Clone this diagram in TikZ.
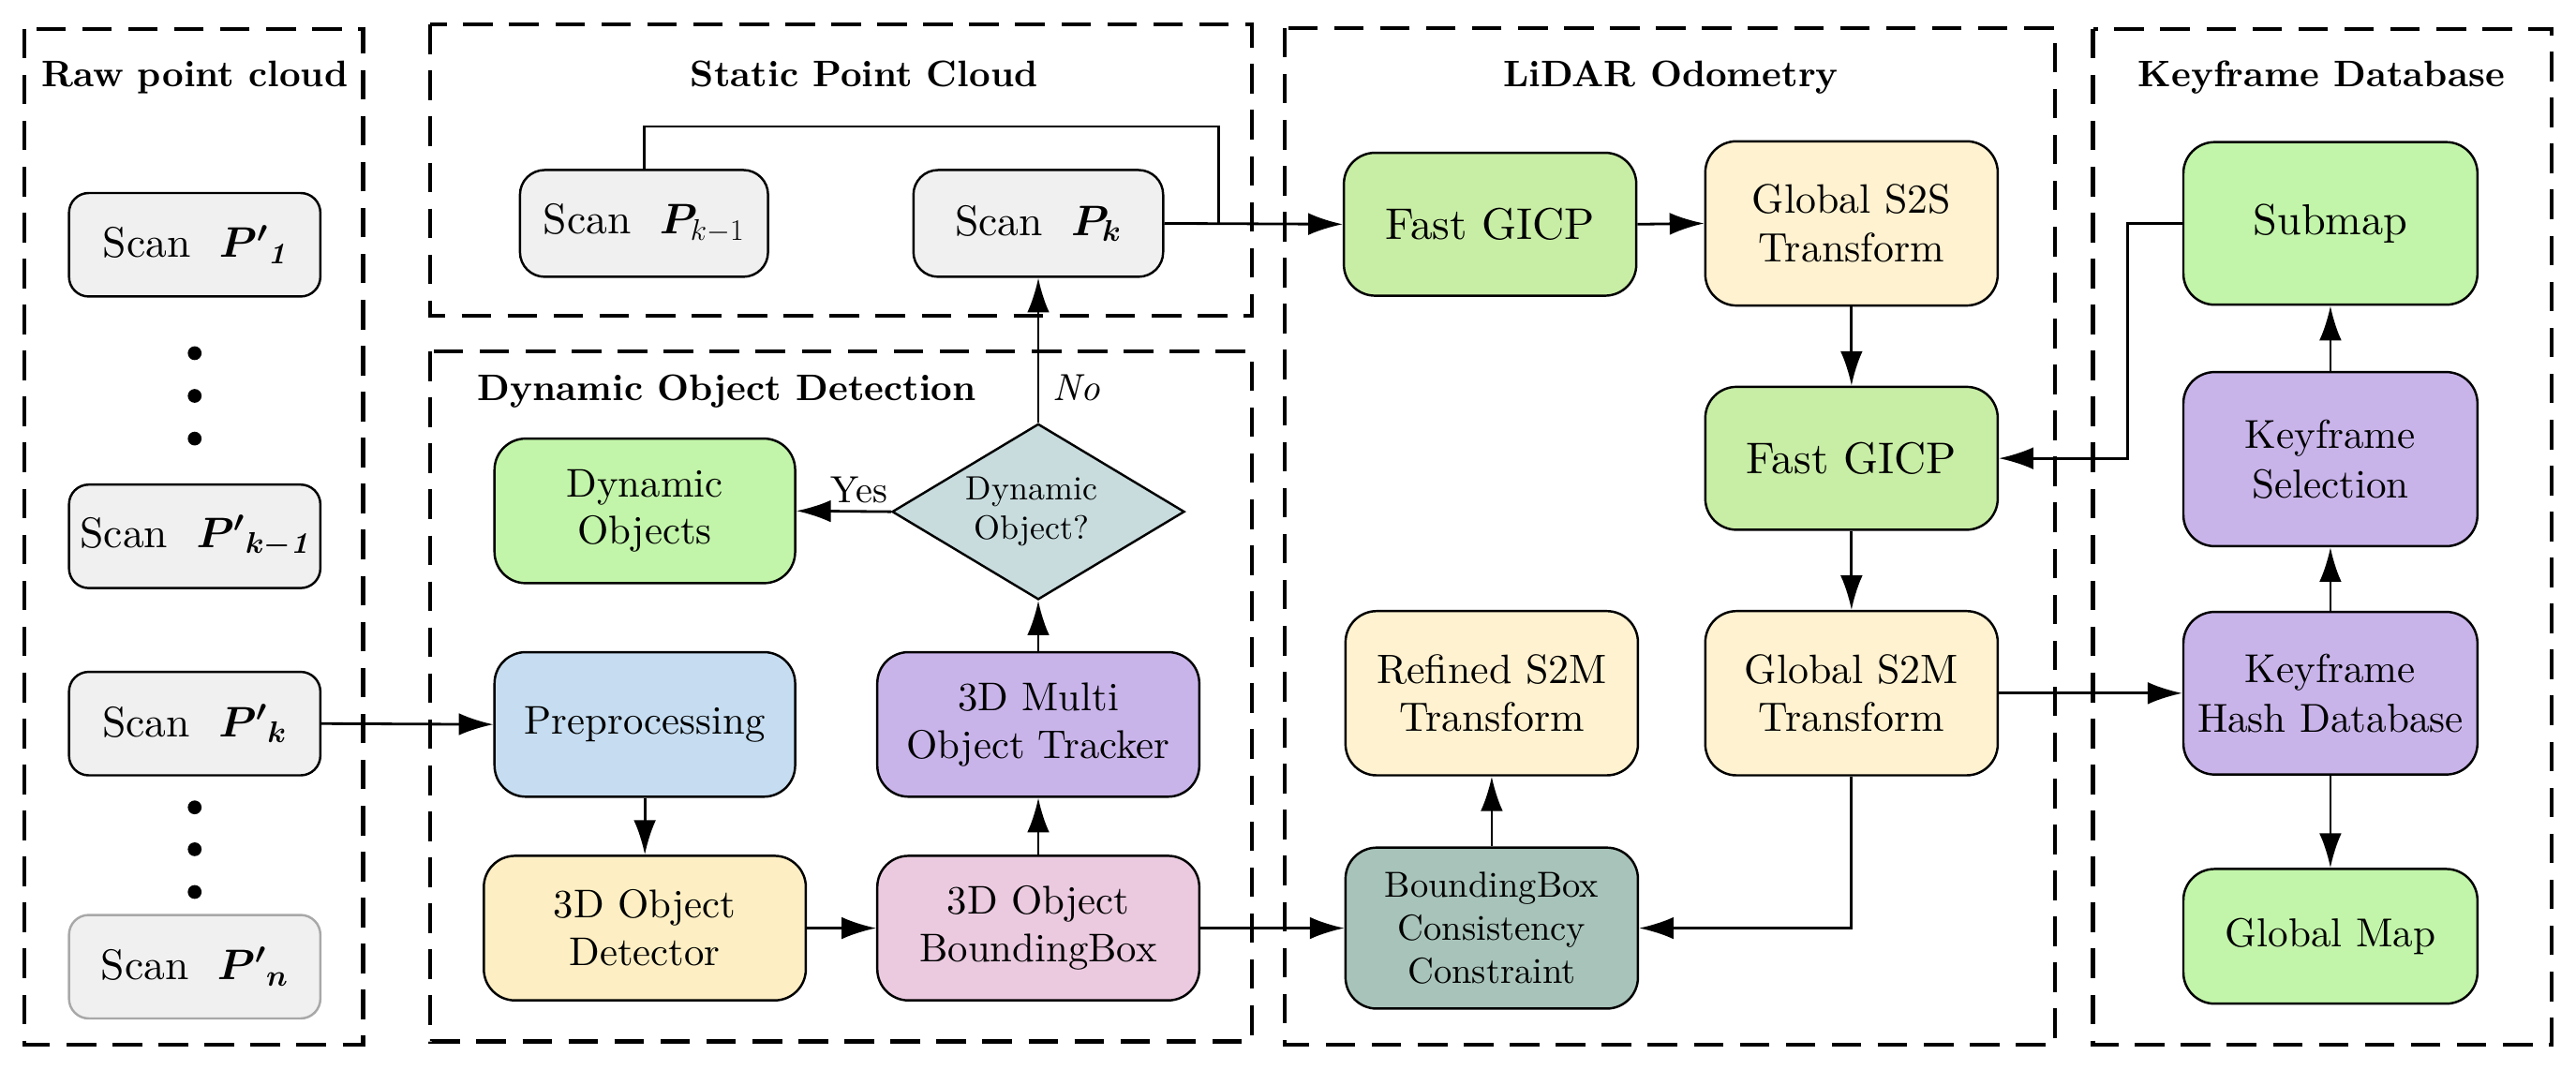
\RequirePackage{fix-cm}
\documentclass[tikz,border=0pt]{standalone}
\usepackage{amsmath}
\usepackage{bm}
\usepackage{fontspec}
\setmainfont{lmroman10-regular.otf}[BoldFont=lmroman10-bold.otf,ItalicFont=lmroman10-italic.otf,BoldItalicFont=lmroman10-bolditalic.otf]
\usetikzlibrary{shapes.geometric,arrows.meta}
\definecolor{scanfill}{HTML}{F0F0F0}
\definecolor{scangray}{HTML}{A8A8A8}
\definecolor{greenA}{HTML}{C2F5A9}
\definecolor{greenB}{HTML}{C8EDA5}
\definecolor{blueA}{HTML}{C6DDF1}
\definecolor{yelA}{HTML}{FDEFC3}
\definecolor{yelB}{HTML}{FFF2D0}
\definecolor{purA}{HTML}{C9B4EA}
\definecolor{pinkA}{HTML}{EBCAE0}
\definecolor{diaA}{HTML}{C8DCDE}
\definecolor{tealA}{HTML}{A7C3BA}
\newcommand{\bo}{\textbf{\textit{1}}}
\begin{document}
\begin{tikzpicture}[x=1pt,y=-1pt,
  frame/.style={draw, line width=2.4pt, dash pattern=on 18pt off 10pt},
  ttl/.style={font=\fontsize{22.5}{27}\selectfont\bfseries, anchor=base, inner sep=0pt},
  box/.style={draw, line width=1.4pt, rounded corners=19pt, align=center, inner sep=0pt},
  scanbox/.style={box, fill=scanfill, rounded corners=12pt, minimum width=153pt, minimum height=63pt, font=\fontsize{26}{31}\selectfont},
  dbox/.style={box, font=\fontsize{24.4}{29}\selectfont, minimum height=88pt},
  lbox/.style={box, font=\fontsize{25}{29.5}\selectfont, minimum width=178pt},
  kbox/.style={box, font=\fontsize{24.6}{30}\selectfont, minimum width=179pt},
  arr/.style={line width=1.6pt, -{Latex[length=21pt,width=13.5pt]}},
  ln/.style={line width=1.6pt},
  dot/.style={circle, fill=black, inner sep=0pt, minimum size=8.4pt},
  lab/.style={font=\fontsize{23}{27}\selectfont, inner sep=0pt}]

\useasboundingbox (0,0) rectangle (1568,651);

% frames
\draw[frame] (15,17.5) rectangle (221,636);
\draw[frame] (262,15) rectangle (762,192);
\draw[frame] (262,214) rectangle (762,634);
\draw[frame] (782,17) rectangle (1251,636);
\draw[frame] (1274,17.5) rectangle (1553,636);

% titles
\node[ttl] (traw) at (118.5,53) {Raw point cloud};
\node[ttl] (tstat) at (526,53) {Static Point Cloud};
\node[ttl] (tdyn) at (442.5,244) {Dynamic Object Detection};
\node[ttl] (tlid) at (1017,53) {LiDAR Odometry};
\node[ttl] (tkf) at (1413,53) {Keyframe Database};

% raw point cloud
\node[scanbox] (rp1) at (118.5,149) {Scan~ ${\bm{P'}}_{\bo}$};
\node[dot] (d1) at (118.5,215) {};
\node[dot] (d2) at (118.5,241) {};
\node[dot] (d3) at (118.5,267) {};
\node[scanbox] (rpk1) at (118.5,326.5) {Scan~ ${\bm{P'}}_{\bm{k-}\bo}$};
\node[scanbox] (rpk) at (118.5,440.5) {Scan~ ${\bm{P'}}_{\bm{k}}$};
\node[dot] (d4) at (118.5,491.5) {};
\node[dot] (d5) at (118.5,517) {};
\node[dot] (d6) at (118.5,543) {};
\node[scanbox, draw=scangray] (rpn) at (118.5,588.5) {Scan~ ${\bm{P'}}_{\bm{n}}$};

% static point cloud
\node[scanbox, minimum width=151pt, minimum height=65pt, rounded corners=15pt] (sk1) at (392,136) {Scan~ $\bm{P}_{k-1}$};
\node[scanbox, minimum width=152pt, minimum height=65pt, rounded corners=15pt] (sk) at (632,136) {Scan~ $\bm{P_{k}}$};

% dynamic object detection
\node[dbox, fill=greenA, minimum width=183pt] (dynobj) at (392.5,311) {Dynamic\\Objects};
\node[diamond, draw, line width=1.4pt, fill=diaA, minimum width=178pt, minimum height=107pt, inner sep=0pt] (dq) at (632,311.5) {};
\node[font=\fontsize{20.5}{24}\selectfont, align=center, inner sep=0pt] (dqt) at (628,311.5) {Dynamic\\Object?};
\node[dbox, fill=blueA, minimum width=183pt] (prep) at (392.5,441) {Preprocessing};
\node[dbox, fill=purA, minimum width=196pt] (trk) at (632,441) {3D Multi\\Object Tracker};
\node[dbox, fill=yelA, minimum width=196pt] (det) at (392.5,565) {3D Object\\Detector};
\node[dbox, fill=pinkA, minimum width=196pt] (bb3) at (632,565) {3D Object\\BoundingBox};

% lidar odometry
\node[lbox, fill=greenB, minimum height=87pt, font=\fontsize{27}{32}\selectfont] (fg1) at (907,136.5) {Fast GICP};
\node[lbox, fill=yelB, minimum height=100pt] (s2s) at (1127,136) {Global S2S\\Transform};
\node[lbox, fill=greenB, minimum height=87pt, font=\fontsize{27}{32}\selectfont] (fg2) at (1127,279) {Fast GICP};
\node[lbox, fill=yelB, minimum height=100pt] (s2m) at (1127,422) {Global S2M\\Transform};
\node[lbox, fill=yelB, minimum height=100pt] (rs2m) at (908,422) {Refined S2M\\Transform};
\node[lbox, fill=tealA, minimum height=98pt, font=\fontsize{22}{26}\selectfont] (bbcc) at (908,565) {BoundingBox\\Consistency\\Constraint};

% keyframe database
\node[kbox, fill=greenA, minimum height=99pt, font=\fontsize{26.4}{31}\selectfont] (submap) at (1418.5,136) {Submap};
\node[kbox, fill=purA, minimum height=106pt] (ksel) at (1418.5,279.5) {Keyframe\\Selection};
\node[kbox, fill=purA, minimum height=99pt] (khash) at (1418.5,422) {Keyframe\\Hash Database};
\node[kbox, fill=greenA, minimum height=82pt] (gmap) at (1418.5,570) {Global Map};

% helper coordinates
\coordinate (jt) at (742,77);
\coordinate (jn) at (742,136);
\coordinate (kx) at (1295,200);

% connectors
\draw[arr] (rpk.east) -- (prep.west);
\draw[arr] (prep.south) -- (det.north);
\draw[arr] (det.east) -- (bb3.west);
\draw[arr] (bb3.north) -- (trk.south);
\draw[arr] (trk.north) -- (dq.south);
\draw[arr] (dq.west) -- (dynobj.east);
\node[lab] (yes) at (523,298) {Yes};
\draw[arr] (dq.north) -- (sk.south);
\node[lab, font=\fontsize{23}{27}\selectfont\itshape] (no) at (655,236) {No};
\draw[arr] (sk.east) -- (fg1.west);
\draw[ln] (sk1.north) |- (jt) -- (jn);
\draw[arr] (fg1.east) -- (s2s.west);
\draw[arr] (s2s.south) -- (fg2.north);
\draw[arr] (fg2.south) -- (s2m.north);
\draw[arr] (s2m.south) |- (bbcc.east);
\draw[arr] (bbcc.north) -- (rs2m.south);
\draw[arr] (bb3.east) -- (bbcc.west);
\draw[arr] (submap.west) -| (kx) |- (fg2.east);
\draw[arr] (s2m.east) -- (khash.west);
\draw[arr] (khash.north) -- (ksel.south);
\draw[arr] (ksel.north) -- (submap.south);
\draw[arr] (khash.south) -- (gmap.north);
\end{tikzpicture}
\end{document}
